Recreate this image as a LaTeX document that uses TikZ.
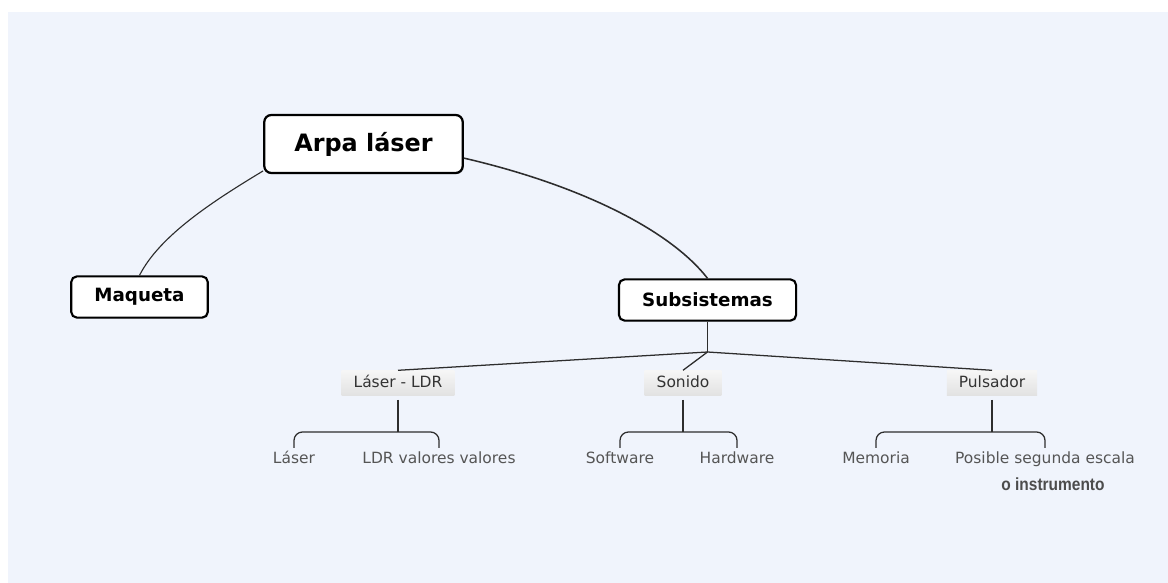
\documentclass[tikz,border=0pt]{standalone}
\usepackage{fontspec}
\setmainfont{DejaVu Sans}
\newfontfamily\narrowfont[FakeStretch=0.88]{Liberation Sans}
\usetikzlibrary{shadows}
\definecolor{mapbg}{RGB}{240,244,252}
\definecolor{mapline}{RGB}{45,45,45}
\definecolor{leaftext}{RGB}{85,85,85}
\definecolor{subtop}{RGB}{246,246,246}
\definecolor{subbot}{RGB}{226,226,226}
\tikzset{
  rootbox/.style={draw=black, line width=1.6pt, rounded corners=5pt, fill=white,
    font=\bfseries\fontsize{17}{20}\selectfont, inner xsep=0.75cm, minimum height=1.45cm,
    drop shadow={opacity=0.3,shadow xshift=0.8pt,shadow yshift=-0.8pt}},
  topicbox/.style={draw=black, line width=1.5pt, rounded corners=4pt, fill=white,
    font=\bfseries\fontsize{13}{15}\selectfont, inner xsep=0.58cm, minimum height=1.03cm,
    drop shadow={opacity=0.3,shadow xshift=0.8pt,shadow yshift=-0.8pt}},
  subbox/.style={top color=subtop, bottom color=subbot, text=black!80,
    font=\fontsize{11}{13}\selectfont, inner xsep=0.3cm, minimum height=0.5cm,
    text height=8.5pt, text depth=2.5pt},
  leaf/.style={font=\fontsize{11}{13}\selectfont, text=leaftext, inner sep=2pt,
    text height=8.5pt, text depth=2.5pt, anchor=base},
  link/.style={draw=mapline, line width=0.9pt},
  bracket/.style={draw=mapline, line width=0.9pt, rounded corners=6pt}
}
\begin{document}
\begin{tikzpicture}[x=0.025cm,y=-0.025cm]
  \useasboundingbox (0,0) rectangle (1168,583);
  \fill[mapbg] (8,12) rectangle (1168,583);

  % main topics
  \node[rootbox] (arpa) at (363.5,144) {Arpa láser};
  \node[topicbox] (maqueta) at (139.5,297) {Maqueta};
  \node[topicbox] (subsis) at (707.5,300) {Subsistemas};

  \draw[link, line width=0.8pt] (arpa.-165) .. controls (215,200) and (160,235) .. (maqueta.north);
  \draw[link, line width=1.1pt] (arpa.-8) .. controls (580,185) and (670,230) .. (subsis.north);

  % subsystems
  \node[subbox] (lasldr) at (398,383) {Láser - LDR};
  \node[subbox] (sonido) at (683,383) {Sonido};
  \node[subbox] (pulsador) at (992,383) {Pulsador};

  \coordinate (hub) at (707.5,352);
  \draw[link] (subsis.south) -- (hub);
  \foreach \n in {lasldr,sonido,pulsador}
    \draw[link] (hub) -- (\n.north);

  % leaves
  \node[leaf] (laser) at (294,463) {Láser};
  \node[leaf] (ldr) at (439,463) {LDR valores valores};
  \node[leaf] (software) at (620,463) {Software};
  \node[leaf] (hardware) at (737,463) {Hardware};
  \node[leaf] (memoria) at (876,463) {Memoria};
  \node[leaf] (posible) at (1045,463) {Posible segunda escala};
  \node[anchor=base, text=black!70, font=\narrowfont\bfseries\fontsize{12.5}{14}\selectfont] (instr) at (1053,490) {o instrumento};

  \coordinate (jlaser) at (398,432);
  \coordinate (jsonido) at (683,432);
  \coordinate (jpulsador) at (992,432);

  \foreach \p/\j/\a/\b in {lasldr/jlaser/laser/ldr,sonido/jsonido/software/hardware,pulsador/jpulsador/memoria/posible}{
    \draw[link] ([yshift=-3pt]\p.south) -- (\j);
    \draw[bracket] (\a.north) |- (\j) -| (\b.north);
  }
\end{tikzpicture}
\end{document}
